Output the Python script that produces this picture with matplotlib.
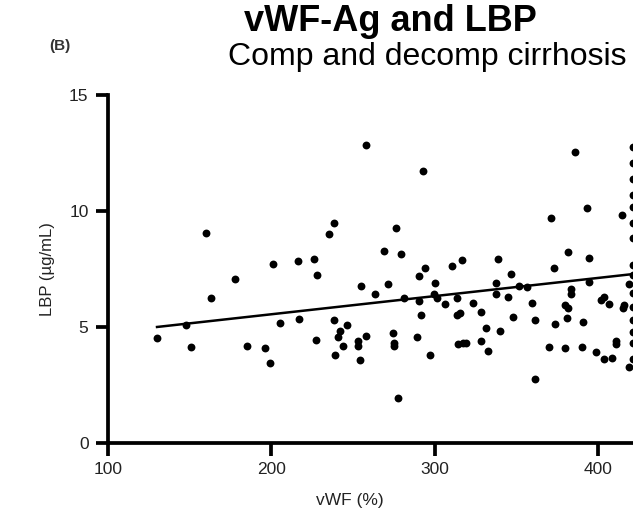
import matplotlib
matplotlib.use("Agg")
import matplotlib.pyplot as plt

plt.rcParams['font.family'] = ['Liberation Sans', 'DejaVu Sans']

# values (vWF %, LBP ug/mL)
vwf = [129.8, 147.7, 150.8, 159.8, 163, 177.9, 184.8, 196, 198.9, 200.9,
       205, 216, 216.8, 226.2, 227, 228, 235, 238.2, 238, 239,
       240.9, 241.9, 243.9, 246, 253, 253, 254.1, 255, 258, 258,
       263.1, 269, 271, 274.1, 275, 275, 276.1, 277.2, 279, 281.2,
       289.2, 290, 290, 291.4, 293, 294, 297.1, 299.4, 300.2, 301.4,
       306.3, 310.4, 313.2, 313.2, 315.3, 314.3, 316.3, 317.3, 319.3, 323.2,
       328.3, 328.3, 331.2, 332.2, 337.3, 337.3, 338.5, 340.1, 344.4, 346.5,
       347.5, 351.5, 356.4, 359.5, 361.5, 361.5, 369.5, 371.3, 372.6, 373.6,
       379.5, 379.5, 381.5, 380.5, 381.5, 383.5, 383.5, 385.6, 389.7, 390.7,
       393.2, 394.4, 394.4, 398.7, 401.7, 403.7, 403.5, 406.6, 408.6, 410.7,
       410.7, 414.6, 414.8, 415.8, 418.8, 418.8,
       421, 421, 421, 421, 421, 421, 421, 421, 421, 421, 421, 421, 421, 421, 421]
lbp = [4.51, 5.09, 4.12, 9.06, 6.24, 7.07, 4.18, 4.11, 3.46, 7.73,
       5.17, 7.84, 5.34, 7.93, 4.45, 7.26, 9.0, 9.5, 5.3, 3.78,
       4.58, 4.84, 4.18, 5.09, 4.4, 4.18, 3.58, 6.77, 12.86, 4.6,
       6.44, 8.28, 6.85, 4.73, 4.32, 4.18, 9.28, 1.93, 8.15, 6.26,
       4.55, 7.2, 6.12, 5.52, 11.74, 7.53, 3.78, 6.41, 6.88, 6.24,
       5.98, 7.64, 6.26, 5.52, 5.59, 4.27, 7.9, 4.32, 4.32, 6.05,
       5.66, 4.38, 4.96, 3.97, 6.9, 6.44, 7.94, 4.84, 6.28, 7.28,
       5.44, 6.78, 6.71, 6.02, 5.29, 2.76, 4.12, 9.71, 7.53, 5.14,
       4.08, 5.95, 5.83, 5.4, 8.23, 6.64, 6.44, 12.56, 4.15, 5.22,
       10.14, 7.96, 6.95, 3.94, 6.16, 6.31, 3.61, 5.98, 3.68, 4.4,
       4.25, 9.81, 5.8, 5.95, 3.29, 6.85,
       12.77, 12.06, 11.36, 10.67, 10.19, 9.48, 8.82, 7.67, 7.24, 6.45,
       5.85, 5.3, 4.8, 4.3, 3.6]

# regression line end points
fit_x = [130, 421]
fit_y = [5.0, 7.28]

x_ticks = [100, 200, 300, 400]
y_ticks = [0, 5, 10, 15]

fig = plt.figure(figsize=(6.33, 5.23), dpi=100)
# axes run past the right edge, the reference is cropped there
ax = fig.add_axes([0.1706, 0.153, 1.033, 0.6654])

ax.scatter(vwf, lbp, s=32, color='black', zorder=3, linewidths=0)
ax.plot(fit_x, fit_y, color='black', lw=1.8, zorder=2)

ax.set_xlim(100, 500)
ax.set_ylim(0, 15)
ax.set_xticks(x_ticks)
ax.set_yticks(y_ticks)
for s in ['top', 'right']:
    ax.spines[s].set_visible(False)
for s in ['left', 'bottom']:
    ax.spines[s].set_linewidth(2.7)
ax.tick_params(width=2.7, length=9, labelsize=12.5, colors='black',
               labelcolor='#222222', pad=5)

ax.set_xlabel('vWF (%)', fontsize=12.5, color='#222222', labelpad=10)
ax.xaxis.set_label_coords(0.37, -0.145)
ax.set_ylabel('LBP (µg/mL)', fontsize=12, color='#222222', labelpad=10)

fig.text(0.617, 0.958, 'vWF-Ag and LBP', ha='center', va='center',
         fontsize=26, fontweight='bold')
fig.text(0.675, 0.891, 'Comp and decomp cirrhosis', ha='center', va='center',
         fontsize=23)
fig.text(0.095, 0.912, '(B)', ha='center', va='center', fontsize=11,
         fontweight='bold', color='#333333')

fig.savefig('out.png', dpi=100)
